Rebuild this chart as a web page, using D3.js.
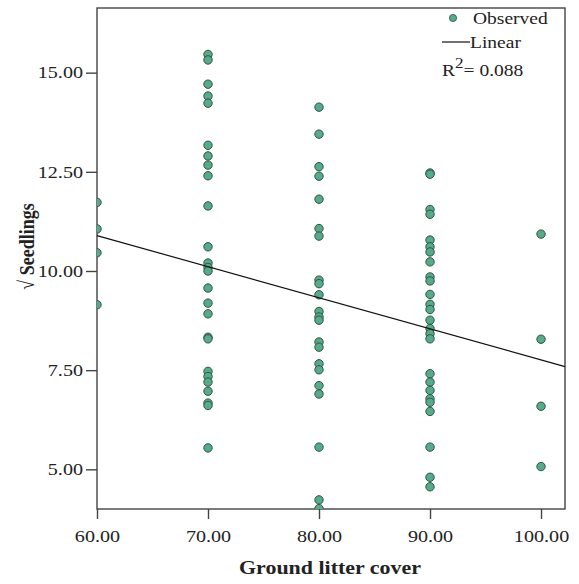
<!DOCTYPE html>
<html>
<head>
<meta charset="utf-8">
<script src="https://cdn.jsdelivr.net/npm/d3@7"></script>
<style>
  body { margin: 0; background: #fff; }
  svg { display: block; }
  text { font-family: "Liberation Serif", "Times New Roman", serif; fill: #222; }
</style>
</head>
<body>
<div id="chart"></div>
<script>
// litter cover levels (x) and sqrt seedling counts observed at each level
const coverLevels = [60, 70, 80, 90, 100];
const seedlings60 = [11.73, 11.06, 10.46, 9.15];
const seedlings70 = [15.46, 15.32, 14.71, 14.41, 14.23, 13.17, 12.90, 12.67, 12.40, 11.64,
  10.61, 10.20, 10.09, 10.00, 9.57, 9.19, 8.92, 8.33, 8.29, 7.47, 7.34, 7.20, 6.97, 6.67, 6.61, 5.54];
const seedlings80 = [14.13, 13.45, 12.63, 12.39, 11.81, 11.07, 10.88, 9.77, 9.68, 9.40,
  8.98, 8.84, 8.76, 8.21, 8.08, 7.66, 7.51, 7.11, 6.90, 5.56, 4.23, 4.01];
const seedlings90 = [12.47, 12.44, 11.55, 11.43, 10.78, 10.61, 10.48, 10.23, 9.85, 9.75,
  9.41, 9.16, 9.03, 8.76, 8.55, 8.42, 8.29, 7.41, 7.20, 6.99, 6.78, 6.69, 6.46, 5.56, 4.80, 4.56];
const seedlings100 = [10.93, 8.28, 6.59, 5.07];

const xTicks = [60, 70, 80, 90, 100];
const yTicks = [5, 7.5, 10, 12.5, 15];

// linear fit: sqrt(seedlings) = intercept + slope * cover
const fitIntercept = 15.59;
const fitSlope = -0.0783;
const rSquared = '0.088';

const groups = [seedlings60, seedlings70, seedlings80, seedlings90, seedlings100];
const points = [];
groups.forEach((vals, i) => vals.forEach((v) => points.push({ x: coverLevels[i], y: v })));

const width = 579;
const height = 584;
const margin = { top: 8, right: 14, bottom: 75, left: 97 };
const innerW = width - margin.left - margin.right;
const innerH = height - margin.top - margin.bottom;
const stretch = 1.22; // wide-set serif text

const svg = d3.select('#chart').append('svg')
  .attr('width', width)
  .attr('height', height);

const g = svg.append('g')
  .attr('transform', `translate(${margin.left},${margin.top})`);

const xScale = d3.scaleLinear().domain([60, 102.16]).range([0, innerW]);
const yScale = d3.scaleLinear().domain([4.0, 16.63]).range([innerH, 0]);

g.append('clipPath').attr('id', 'plot-clip')
  .append('rect').attr('width', innerW).attr('height', innerH);

// axes
const xAxis = d3.axisBottom(xScale).tickValues(xTicks).tickSize(10).tickPadding(11)
  .tickFormat(d3.format('.2f'));
const yAxis = d3.axisLeft(yScale).tickValues(yTicks).tickSize(11).tickPadding(3)
  .tickFormat(d3.format('.2f'));

const gx = g.append('g').attr('transform', `translate(0,${innerH})`).call(xAxis);
const gy = g.append('g').call(yAxis);

[gx, gy].forEach((ax) => {
  ax.select('.domain').remove();
  ax.selectAll('.tick line').attr('stroke', '#444').attr('stroke-width', 1.4);
  ax.selectAll('.tick text')
    .style('font-family', '"Liberation Serif", serif')
    .style('font-size', '16.5px')
    .attr('fill', '#222');
});

// widen tick labels horizontally
gx.selectAll('.tick text')
  .attr('transform', function () {
    const y = +d3.select(this).attr('y');
    return `translate(0,${y}) scale(${stretch},1) translate(0,${-y})`;
  });
gy.selectAll('.tick text')
  .attr('transform', function () {
    const x = +d3.select(this).attr('x');
    return `translate(${x},0) scale(${stretch},1) translate(${-x},0)`;
  });

// frame
g.append('rect')
  .attr('width', innerW)
  .attr('height', innerH)
  .attr('fill', 'none')
  .attr('stroke', '#444')
  .attr('stroke-width', 1.4);

// points
g.append('g').attr('clip-path', 'url(#plot-clip)')
  .selectAll('circle')
  .data(points)
  .join('circle')
  .attr('cx', (d) => xScale(d.x))
  .attr('cy', (d) => yScale(d.y))
  .attr('r', 4.2)
  .attr('fill', '#58ab8a')
  .attr('stroke', '#2c5444')
  .attr('stroke-width', 1);

// fit line
const xDom = xScale.domain();
const line = d3.line().x((d) => xScale(d)).y((d) => yScale(fitIntercept + fitSlope * d));
g.append('path')
  .datum(xDom)
  .attr('d', line)
  .attr('fill', 'none')
  .attr('stroke', '#111')
  .attr('stroke-width', 1.2);

// legend
const legend = svg.append('g');
legend.append('circle').attr('cx', 453).attr('cy', 18).attr('r', 3.6)
  .attr('fill', '#58ab8a').attr('stroke', '#2c5444').attr('stroke-width', 0.8);
legend.append('line').attr('x1', 442).attr('x2', 470).attr('y1', 42).attr('y2', 42)
  .attr('stroke', '#111').attr('stroke-width', 1.2);

function wideText(sel, x, y, size, txt) {
  return sel.append('text')
    .attr('transform', `translate(${x},${y}) scale(${stretch},1)`)
    .style('font-size', size + 'px')
    .text(txt);
}
wideText(legend, 473, 24, 16, 'Observed');
wideText(legend, 470, 48, 16, 'Linear');
const r2 = legend.append('text')
  .attr('transform', `translate(442,76) scale(${stretch},1)`)
  .style('font-size', '16px');
r2.append('tspan').text('R');
r2.append('tspan').attr('dy', -8).style('font-size', '14px').text('2');
r2.append('tspan').attr('dy', 8).text('= ' + rSquared);

// axis titles
svg.append('text')
  .attr('transform', `translate(${margin.left + xScale(80) + 11},574) scale(${stretch},1)`)
  .attr('text-anchor', 'middle')
  .style('font-size', '18px')
  .style('font-weight', 'bold')
  .text('Ground litter cover');

svg.append('text')
  .attr('transform', `translate(34,${margin.top + innerH / 2 - 12}) rotate(-90) scale(1,${stretch})`)
  .attr('text-anchor', 'middle')
  .style('font-size', '18px')
  .style('font-weight', 'bold')
  .text('√ Seedlings');
</script>
</body>
</html>
